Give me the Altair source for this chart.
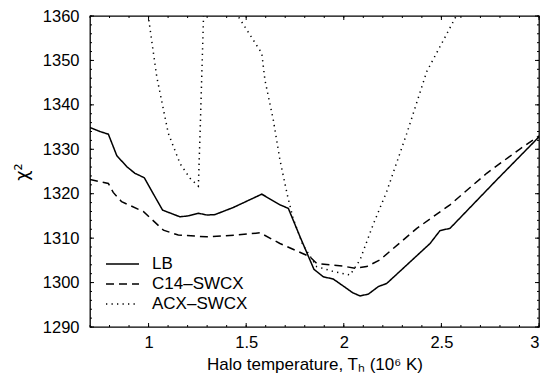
import altair as alt
import pandas as pd

# ---- data ----
names = ["LB", "C14\u2013SWCX", "ACX\u2013SWCX"]

lb_T = [0.70, 0.751, 0.794, 0.837, 0.888, 0.930, 0.978, 1.042, 1.072, 1.161, 1.20, 1.255, 1.30, 1.340,
        1.434, 1.580, 1.673, 1.716, 1.776, 1.847, 1.895, 1.946, 1.998, 2.046, 2.083, 2.126, 2.177,
        2.220, 2.442, 2.493, 2.544, 2.783, 3.0]
lb_chi = [1334.9, 1334.0, 1333.4, 1328.6, 1326.1, 1324.6, 1323.6, 1318.6, 1316.3, 1314.8, 1315.0, 1315.6,
          1315.2, 1315.3, 1316.9, 1319.9, 1317.5, 1316.7, 1310.3, 1303.0, 1301.3, 1300.8, 1299.2, 1297.7,
          1297.0, 1297.4, 1299.1, 1299.8, 1308.8, 1311.7, 1312.2, 1323.1, 1332.8]

c14_T = [0.70, 0.794, 0.819, 0.862, 0.973, 1.076, 1.152, 1.297, 1.451, 1.571, 1.673, 1.827, 1.861,
         1.998, 2.057, 2.117, 2.185, 2.374, 2.544, 2.732, 2.90, 3.0]
c14_chi = [1323.2, 1322.3, 1320.3, 1318.2, 1316.0, 1311.8, 1310.7, 1310.3, 1310.7, 1311.2, 1308.8, 1305.8,
           1304.3, 1303.7, 1303.2, 1303.6, 1305.1, 1312.2, 1317.5, 1324.6, 1330.0, 1333.0]

acx_T = [0.985, 1.0, 1.042, 1.101, 1.161, 1.212, 1.255, 1.264, 1.281, 1.285, 1.37, 1.465, 1.580, 1.596,
         1.639, 1.673, 1.711, 1.74, 1.79, 1.861, 1.946, 2.0, 2.032, 2.083, 2.15, 2.22, 2.323, 2.425,
         2.511, 2.57, 2.65]
acx_chi = [1364, 1359.5, 1346.3, 1333.6, 1326.8, 1323.5, 1321.7, 1333.6, 1359.1, 1366, 1366, 1359.5,
           1351.6, 1345.6, 1336.6, 1327.6, 1319.7, 1314.5, 1308.5, 1303.6, 1302.5, 1302.0, 1301.7, 1305.1,
           1313.0, 1320.5, 1333.6, 1347.5, 1354.6, 1359.5, 1366]

x_major = [1, 1.5, 2, 2.5, 3]
x_minor = [round(0.7 + 0.1 * i, 1) for i in range(24)]
y_major = [1290, 1300, 1310, 1320, 1330, 1340, 1350, 1360]
y_minor = list(range(1290, 1361, 2))

rows = []
for name, xs_, ys_ in zip(names, [lb_T, c14_T, acx_T], [lb_chi, c14_chi, acx_chi]):
    for a, b in zip(xs_, ys_):
        rows.append({"T": a, "chi2": b, "model": name})
df = pd.DataFrame(rows)

W, H = 449, 311
FONT = "Liberation Sans"
xsc = alt.Scale(domain=[0.7, 3], nice=False, zero=False)
ysc = alt.Scale(domain=[1290, 1360], nice=False, zero=False)

lines = alt.Chart(df).mark_line(clip=True, color="black").encode(
    x=alt.X("T:Q", scale=xsc,
            axis=alt.Axis(values=x_major, format="~g", title="Halo temperature, T\u2095 (10\u2076 K)",
                          ticks=False, grid=False, domain=False, labelPadding=7, titlePadding=6,
                          labelFontSize=16.5, titleFontSize=17, labelFont=FONT, titleFont=FONT,
                          labelColor="black", titleColor="black", titleFontWeight="normal")),
    y=alt.Y("chi2:Q", scale=ysc,
            axis=alt.Axis(values=y_major, format="d", title="\u03c7\u00b2", ticks=False, grid=False,
                          domain=False, labelPadding=11, titlePadding=11, labelFontSize=16.5,
                          titleFontSize=18, labelFont=FONT, titleFont="DejaVu Sans", labelColor="black",
                          titleColor="black", titleFontWeight="normal")),
    strokeDash=alt.StrokeDash("model:N", scale=alt.Scale(domain=names, range=[[1, 0], [8, 5], [1.3, 4.2]]),
                              legend=alt.Legend(title=None, orient="none", legendX=15, legendY=238,
                                                padding=0, clipHeight=20, rowPadding=0,
                                                symbolType="stroke", symbolSize=1089,
                                                symbolStrokeColor="black", symbolStrokeWidth=1.5,
                                                labelFont=FONT, labelFontSize=17, labelColor="black",
                                                labelOffset=12)),
    strokeWidth=alt.StrokeWidth("model:N", scale=alt.Scale(domain=names, range=[1.5, 1.5, 1.4]), legend=None),
)

def xt(vals, length):
    d = pd.DataFrame({"v": vals})
    bot = alt.Chart(d).mark_rule(color="black", strokeWidth=1).encode(
        x=alt.X("v:Q", scale=xsc), y=alt.value(H), y2=alt.value(H - length))
    top = alt.Chart(d).mark_rule(color="black", strokeWidth=1).encode(
        x=alt.X("v:Q", scale=xsc), y=alt.value(0), y2=alt.value(length))
    return bot + top

def yt(vals, length):
    d = pd.DataFrame({"v": vals})
    left = alt.Chart(d).mark_rule(color="black", strokeWidth=1).encode(
        y=alt.Y("v:Q", scale=ysc), x=alt.value(0), x2=alt.value(length))
    right = alt.Chart(d).mark_rule(color="black", strokeWidth=1).encode(
        y=alt.Y("v:Q", scale=ysc), x=alt.value(W), x2=alt.value(W - length))
    return left + right

chart = alt.layer(
    xt(x_minor, 2), xt(x_major, 4), yt(y_minor, 2), yt(y_major, 4), lines
).properties(
    width=W, height=H,
    autosize=alt.AutoSizeParams(type="none"),
    padding={"left": 90, "top": 16, "right": 5, "bottom": 50},
    background="white",
).configure_view(stroke="black", strokeWidth=1.3)

chart.save("out.html", embed_options={"renderer": "svg", "actions": False})
